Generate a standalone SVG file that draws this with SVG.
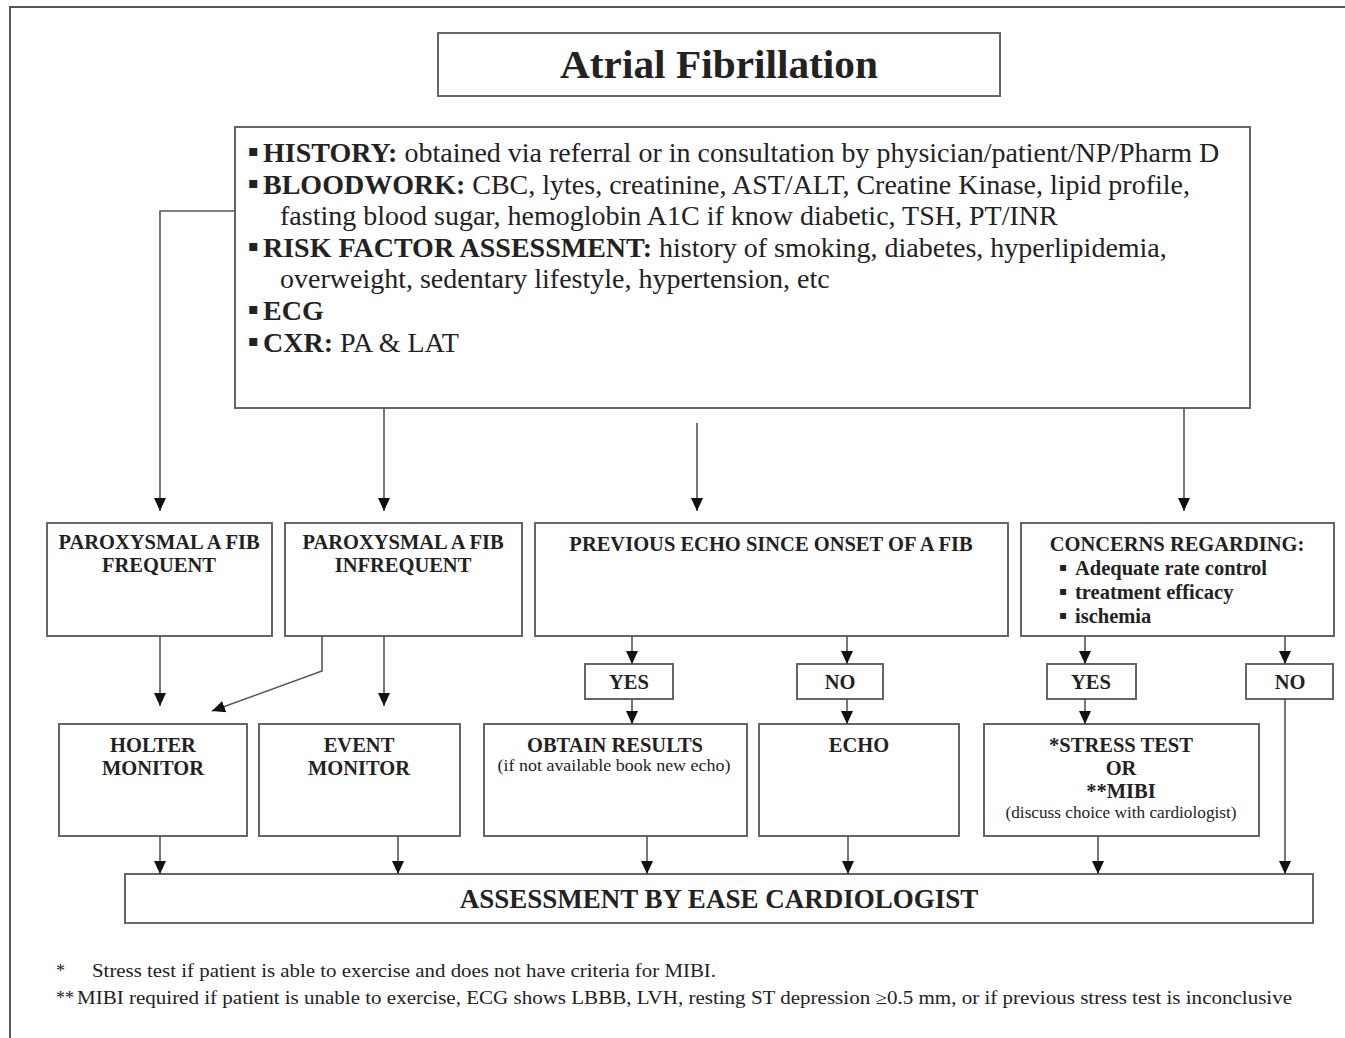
<svg xmlns="http://www.w3.org/2000/svg" width="1345" height="1038" viewBox="0 0 1345 1038">
<defs>
<style>
text{font-family:"Liberation Serif","Times New Roman",serif;fill:#222;}
.box{fill:#fff;stroke:#666;stroke-width:2;}
.ln{fill:none;stroke:#555;stroke-width:1.6;}
.b{font-weight:bold;}
.t20{font-size:20.5px;font-weight:bold;text-anchor:middle;}
.sm{font-size:16.5px;text-anchor:middle;}
.m{font-size:28px;}
.fn{font-size:18px;}
.bu{font-family:"DejaVu Sans",sans-serif;}
</style>
<marker id="ah" markerWidth="13" markerHeight="12" refX="13" refY="6" orient="auto" markerUnits="userSpaceOnUse">
<path d="M0,0 L13,6 L0,12 z" fill="#111"/>
</marker>
</defs>
<rect width="1345" height="1038" fill="#fff"/>
<g id="frame">
<path d="M10,1038 L10,7 L1345,7" fill="none" stroke="#555" stroke-width="2"/>
</g>

<g id="title">
<rect class="box" x="438" y="33" width="562" height="63"/>
<text x="719" y="78" text-anchor="middle" class="b" font-size="40" textLength="318" lengthAdjust="spacingAndGlyphs">Atrial Fibrillation</text>
</g>

<g id="assessment-list">
<rect class="box" x="235" y="127" width="1015" height="281"/>
<text class="m" y="162"><tspan x="248" dy="-6" class="bu" font-size="16">▪</tspan><tspan x="263" dy="6" class="b">HISTORY:</tspan> obtained via referral or in consultation by physician/patient/NP/Pharm D</text>
<text class="m" y="193.5"><tspan x="248" dy="-6" class="bu" font-size="16">▪</tspan><tspan x="263" dy="6" class="b">BLOODWORK:</tspan> CBC, lytes, creatinine, AST/ALT, Creatine Kinase, lipid profile,</text>
<text class="m" x="280" y="225">fasting blood sugar, hemoglobin A1C if know diabetic, TSH, PT/INR</text>
<text class="m" y="256.5"><tspan x="248" dy="-6" class="bu" font-size="16">▪</tspan><tspan x="263" dy="6" class="b">RISK FACTOR ASSESSMENT:</tspan> history of smoking, diabetes, hyperlipidemia,</text>
<text class="m" x="280" y="288">overweight, sedentary lifestyle, hypertension, etc</text>
<text class="m" y="320"><tspan x="248" dy="-6" class="bu" font-size="16">▪</tspan><tspan x="263" dy="6" class="b">ECG</tspan></text>
<text class="m" y="352"><tspan x="248" dy="-6" class="bu" font-size="16">▪</tspan><tspan x="263" dy="6" class="b">CXR:</tspan> PA &amp; LAT</text>
</g>

<g id="parox-frequent">
<rect class="box" x="47" y="523" width="225" height="113"/>
<text class="t20" x="159" y="549">PAROXYSMAL A FIB</text>
<text class="t20" x="159" y="572">FREQUENT</text>
</g>
<g id="parox-infrequent">
<rect class="box" x="285" y="523" width="237" height="113"/>
<text class="t20" x="403" y="549">PAROXYSMAL A FIB</text>
<text class="t20" x="403" y="572">INFREQUENT</text>
</g>
<g id="previous-echo">
<rect class="box" x="535" y="523" width="473" height="113"/>
<text class="t20" x="771" y="551">PREVIOUS ECHO SINCE ONSET OF A FIB</text>
</g>
<g id="concerns">
<rect class="box" x="1021" y="523" width="313" height="113"/>
<text class="t20" x="1177" y="551">CONCERNS REGARDING:</text>
<text font-size="20.5" class="b" y="575"><tspan x="1059" dy="-4" class="bu" font-size="12">▪</tspan><tspan x="1075" dy="4">Adequate rate control</tspan></text>
<text font-size="20.5" class="b" y="599"><tspan x="1059" dy="-4" class="bu" font-size="12">▪</tspan><tspan x="1075" dy="4">treatment efficacy</tspan></text>
<text font-size="20.5" class="b" y="623"><tspan x="1059" dy="-4" class="bu" font-size="12">▪</tspan><tspan x="1075" dy="4">ischemia</tspan></text>
</g>

<g id="yes-echo">
<rect class="box" x="585" y="664" width="88" height="35"/>
<text class="t20" x="629" y="689">YES</text>
</g>
<g id="no-echo">
<rect class="box" x="797" y="664" width="86" height="35"/>
<text class="t20" x="840" y="689">NO</text>
</g>
<g id="yes-concerns">
<rect class="box" x="1047" y="664" width="89" height="35"/>
<text class="t20" x="1091" y="689">YES</text>
</g>
<g id="no-concerns">
<rect class="box" x="1246" y="664" width="87" height="35"/>
<text class="t20" x="1290" y="689">NO</text>
</g>

<g id="holter">
<rect class="box" x="59" y="724" width="188" height="112"/>
<text class="t20" x="153" y="752">HOLTER</text>
<text class="t20" x="153" y="775">MONITOR</text>
</g>
<g id="event">
<rect class="box" x="259" y="724" width="201" height="112"/>
<text class="t20" x="359" y="752">EVENT</text>
<text class="t20" x="359" y="775">MONITOR</text>
</g>
<g id="obtain-results">
<rect class="box" x="484" y="724" width="263" height="112"/>
<text class="t20" x="615" y="752">OBTAIN RESULTS</text>
<text class="sm" x="614" y="771" textLength="233" lengthAdjust="spacingAndGlyphs">(if not available book new echo)</text>
</g>
<g id="echo">
<rect class="box" x="759" y="724" width="200" height="112"/>
<text class="t20" x="859" y="752">ECHO</text>
</g>
<g id="stress-test">
<rect class="box" x="984" y="724" width="275" height="112"/>
<text class="t20" x="1121" y="752">*STRESS TEST</text>
<text class="t20" x="1121" y="775">OR</text>
<text class="t20" x="1121" y="798">**MIBI</text>
<text class="sm" x="1121" y="818" textLength="231" lengthAdjust="spacingAndGlyphs">(discuss choice with cardiologist)</text>
</g>

<g id="cardiologist">
<rect class="box" x="125" y="874" width="1188" height="49"/>
<text x="719" y="908" text-anchor="middle" class="b" font-size="27">ASSESSMENT BY EASE CARDIOLOGIST</text>
</g>

<g id="connectors">
<path class="ln" d="M235,211 L160,211 L160,511" marker-end="url(#ah)"/>
<path class="ln" d="M384,408 L384,511" marker-end="url(#ah)"/>
<path class="ln" d="M697,423 L697,511" marker-end="url(#ah)"/>
<path class="ln" d="M1184,408 L1184,511" marker-end="url(#ah)"/>

<path class="ln" d="M632,636 L632,664" marker-end="url(#ah)"/>
<path class="ln" d="M847,636 L847,664" marker-end="url(#ah)"/>
<path class="ln" d="M1085,636 L1085,664" marker-end="url(#ah)"/>
<path class="ln" d="M1285,636 L1285,664" marker-end="url(#ah)"/>

<path class="ln" d="M160,636 L160,706" marker-end="url(#ah)"/>
<path class="ln" d="M384,636 L384,706" marker-end="url(#ah)"/>
<path class="ln" d="M322,636 L322,671 L212,711" marker-end="url(#ah)"/>

<path class="ln" d="M632,699 L632,724" marker-end="url(#ah)"/>
<path class="ln" d="M847,699 L847,724" marker-end="url(#ah)"/>
<path class="ln" d="M1085,699 L1085,724" marker-end="url(#ah)"/>
<path class="ln" d="M1285,699 L1285,874" marker-end="url(#ah)"/>

<path class="ln" d="M160,836 L160,874" marker-end="url(#ah)"/>
<path class="ln" d="M398,836 L398,874" marker-end="url(#ah)"/>
<path class="ln" d="M647,836 L647,874" marker-end="url(#ah)"/>
<path class="ln" d="M848,836 L848,874" marker-end="url(#ah)"/>
<path class="ln" d="M1098,836 L1098,874" marker-end="url(#ah)"/>
</g>

<g id="footnotes">
<text class="fn" x="56" y="977">*</text>
<text class="fn" x="92" y="977" textLength="624" lengthAdjust="spacingAndGlyphs">Stress test if patient is able to exercise and does not have criteria for MIBI.</text>
<text class="fn" x="56" y="1004">**</text>
<text class="fn" x="77" y="1004" textLength="1215" lengthAdjust="spacingAndGlyphs">MIBI required if patient is unable to exercise, ECG shows LBBB, LVH, resting ST depression ≥0.5 mm, or if previous stress test is inconclusive</text>
</g>
</svg>
